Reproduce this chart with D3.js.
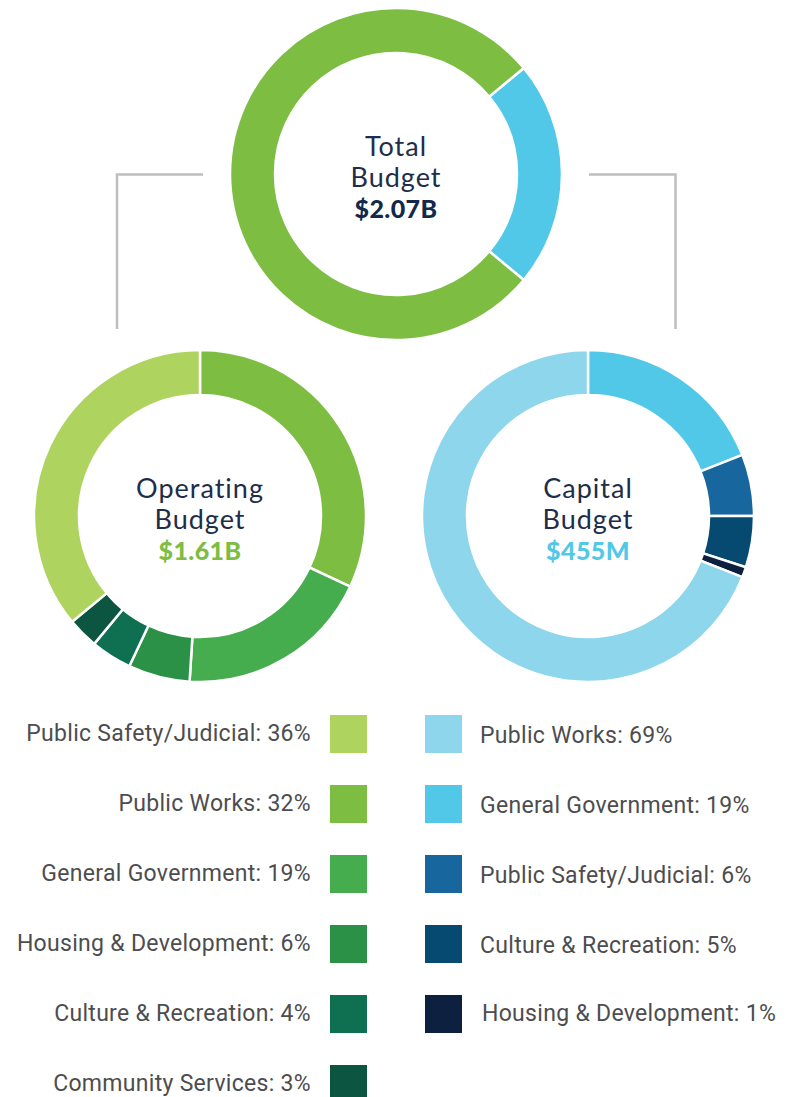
<!DOCTYPE html>
<html>
<head>
<meta charset="utf-8">
<script src="https://cdn.jsdelivr.net/npm/d3@7"></script>
<style>
  html, body { margin: 0; padding: 0; background: #fff; }
  svg { display: block; }
</style>
</head>
<body>
<svg id="chart" width="792" height="1097"></svg>
<script>
// ---- Data ----
const totalCategories = ["Capital", "Operating"];
const totalValues = [455, 1610]; // $M
const totalColors = ["#52c8e8", "#7dbd42"];

// Operating budget (clockwise from top)
const opCategories = ["Public Works", "General Government", "Housing & Development", "Culture & Recreation", "Community Services", "Public Safety/Judicial"];
const opValues = [32, 19, 6, 4, 3, 36];
const opColors = ["#7dbd42", "#45ad4e", "#2a9146", "#0e7050", "#0c5540", "#afd35f"];

// Operating legend order
const opLegend = ["Public Safety/Judicial", "Public Works", "General Government", "Housing & Development", "Culture & Recreation", "Community Services"];

// Capital budget (clockwise from top)
const capCategories = ["General Government", "Public Safety/Judicial", "Culture & Recreation", "Housing & Development", "Public Works"];
const capValues = [19, 6, 5, 1, 69];
const capColors = ["#52c8e8", "#17669e", "#064a72", "#0d2040", "#8dd6ec"];

const capLegend = ["Public Works", "General Government", "Public Safety/Judicial", "Culture & Recreation", "Housing & Development"];

const centerLabels = [
  {lines: ["Total", "Budget"], value: "$2.07B", valueColor: "#13294b"},
  {lines: ["Operating", "Budget"], value: "$1.61B", valueColor: "#7dbd42"},
  {lines: ["Capital", "Budget"], value: "$455M", valueColor: "#52c8e8"}
];

// ---- Drawing ----
const svg = d3.select("#chart");
const outerR = 166, innerR = 121;
const arc = d3.arc().innerRadius(innerR).outerRadius(outerR);

function donut(cx, cy, cats, vals, colors, startAngle) {
  const pie = d3.pie().sort(null).value(d => d.v)
    .startAngle(startAngle).endAngle(startAngle + 2 * Math.PI);
  const data = cats.map((c, i) => ({c, v: vals[i], col: colors[i]}));
  const g = svg.append("g").attr("transform", `translate(${cx},${cy})`);
  g.selectAll("path").data(pie(data)).join("path")
    .attr("d", arc)
    .attr("fill", d => d.data.col)
    .attr("stroke", "#fff")
    .attr("stroke-width", 2.5)
    .attr("stroke-linejoin", "miter");
  return g;
}

function center(g, lab) {
  const t = g.append("g").attr("text-anchor", "middle").attr("font-family", "Lato, 'Open Sans', sans-serif");
  t.append("text").attr("y", -18).attr("font-size", 27).attr("fill", "#1d2d4a").attr("letter-spacing", 1).text(lab.lines[0]);
  t.append("text").attr("y", 13).attr("font-size", 27).attr("fill", "#1d2d4a").attr("letter-spacing", 1).text(lab.lines[1]);
  t.append("text").attr("y", 44).attr("font-size", 25).attr("font-weight", 900).attr("fill", lab.valueColor).attr("letter-spacing", 0.4).text(lab.value);
}

// connectors
const conn = svg.append("g").attr("fill", "none").attr("stroke", "#bcbec0").attr("stroke-width", 2.5);
conn.append("path").attr("d", "M203,174.5 H117 V329");
conn.append("path").attr("d", "M589,174.5 H675.5 V329");

// total
const capAngle = totalValues[0] / d3.sum(totalValues) * 2 * Math.PI;
const gT = donut(396, 174, totalCategories, totalValues, totalColors, Math.PI / 2 - capAngle / 2);
center(gT, centerLabels[0]);

const gO = donut(200, 516, opCategories, opValues, opColors, 0);
center(gO, centerLabels[1]);

const gC = donut(588, 516, capCategories, capValues, capColors, 0);
center(gC, centerLabels[2]);

// legends
const rowY = d3.scaleLinear().domain([0, 1]).range([715, 785]);
const legFont = "Roboto, 'Liberation Sans', sans-serif";

const opLg = svg.append("g");
opLegend.forEach((name, i) => {
  const idx = opCategories.indexOf(name);
  const y = rowY(i);
  opLg.append("rect").attr("x", 330).attr("y", y).attr("width", 37).attr("height", 38).attr("fill", opColors[idx]);
  opLg.append("text").attr("x", 311).attr("y", y + 26).attr("text-anchor", "end")
    .attr("font-family", legFont).attr("font-size", 23).attr("letter-spacing", 0.3).attr("fill", "#4d4d4f")
    .text(`${name}: ${opValues[idx]}%`);
});

const capLg = svg.append("g");
capLegend.forEach((name, i) => {
  const idx = capCategories.indexOf(name);
  const y = rowY(i);
  capLg.append("rect").attr("x", 425).attr("y", y).attr("width", 37).attr("height", 38).attr("fill", capColors[idx]);
  capLg.append("text").attr("x", i === 4 ? 482 : 480).attr("y", y + (i === 4 ? 26 : 28)).attr("text-anchor", "start")
    .attr("font-family", legFont).attr("font-size", 23).attr("letter-spacing", 0.3).attr("fill", "#4d4d4f")
    .text(`${name}: ${capValues[idx]}%`);
});
</script>
</body>
</html>
